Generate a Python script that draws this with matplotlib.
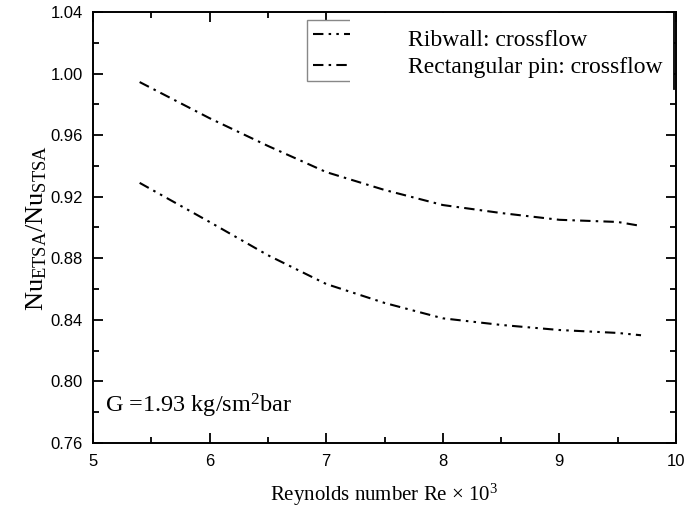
import matplotlib
matplotlib.use('Agg')
import matplotlib.pyplot as plt
from matplotlib.patches import Rectangle
from matplotlib.lines import Line2D
from matplotlib.ticker import MultipleLocator, FormatStrFormatter

plt.rcParams['mathtext.fontset'] = 'custom'
plt.rcParams['mathtext.rm'] = 'Liberation Serif'
plt.rcParams['mathtext.it'] = 'Liberation Serif:italic'

# Reynolds number (x 10^3) and Nusselt ratio for the two geometries
re_vals = [5.4, 6.0, 6.5, 7.0, 7.5, 8.0, 8.5, 9.0, 9.5, 9.7]
nu_ribwall = [0.929, 0.9036, 0.882, 0.8633, 0.851, 0.841, 0.8367, 0.8334, 0.8315, 0.830]
nu_rect_pin = [0.9945, 0.971, 0.953, 0.936, 0.9244, 0.9146, 0.9094, 0.905, 0.9036, 0.901]

labels = ['Ribwall: crossflow', 'Rectangular pin: crossflow']

W, H = 684, 507
fig = plt.figure(figsize=(W / 100, H / 100), dpi=100)
ax = fig.add_axes([93 / W, 1 - 443 / H, (676 - 93) / W, (443 - 12) / H])

l1, = ax.plot(re_vals, nu_ribwall, color='black', lw=1.5,
              linestyle=(0, (5, 2.5, 1.2, 2.5, 1.2, 2.5)))
l2, = ax.plot(re_vals, nu_rect_pin, color='black', lw=1.5,
              linestyle=(0, (5, 2.5, 1.2, 2.5)))

ax.set_xlim(5, 10)
ax.set_ylim(0.76, 1.04)
ax.xaxis.set_major_locator(MultipleLocator(1))
ax.xaxis.set_minor_locator(MultipleLocator(0.5))
ax.yaxis.set_major_locator(MultipleLocator(0.04))
ax.yaxis.set_minor_locator(MultipleLocator(0.02))
ax.yaxis.set_major_formatter(FormatStrFormatter('%.2f'))
ax.tick_params(which='both', direction='in', top=True, right=True,
               labelsize=12, width=1.3)
ax.tick_params(which='major', length=7)
ax.tick_params(which='minor', length=4)
ax.tick_params(axis='x', pad=8)
ax.tick_params(axis='y', pad=7.5)
for lab in ax.get_xticklabels() + ax.get_yticklabels():
    lab.set_family('Liberation Sans')
for sp in ax.spines.values():
    sp.set_linewidth(1.4)

ax.set_xlabel('Reynolds number Re × 10$^\\mathrm{3}$', family='Liberation Serif',
              fontsize=15, labelpad=9)
ax.set_ylabel('Nu$_\\mathrm{ETSA}$/Nu$_\\mathrm{STSA}$', family='Liberation Serif',
              fontsize=19, labelpad=1)

ax.text(0.02, 0.07, 'G =1.93 kg/sm$^\\mathrm{2}$bar', transform=ax.transAxes,
        family='Liberation Serif', fontsize=17.5, va='baseline', ha='left')

# legend with only line samples; the labels sit on a white panel to the right
ax.legend([l1, l2], ['', ''], loc='upper left',
          bbox_to_anchor=(307 / W, 1 - 20 / H), bbox_transform=fig.transFigure,
          borderaxespad=0, fontsize=13, handlelength=4, handletextpad=0.5,
          labelspacing=0.72, borderpad=0.33, fancybox=False, edgecolor='#888888',
          framealpha=1)

ax.add_patch(Rectangle((350 / W, 1 - 100 / H), (674 - 350) / W, (100 - 13) / H,
                       transform=fig.transFigure, facecolor='white', edgecolor='none',
                       zorder=6, clip_on=False))
ax.add_line(Line2D([674 / W, 674 / W], [1 - 89 / H, 1 - 12 / H],
                   transform=fig.transFigure, color='black', lw=1.3,
                   zorder=7, clip_on=False))

ax.text(408 / W, 1 - 46 / H, labels[0], transform=fig.transFigure,
        family='Liberation Serif', fontsize=17, va='baseline', ha='left', zorder=8)
ax.text(408 / W, 1 - 73 / H, labels[1], transform=fig.transFigure,
        family='Liberation Serif', fontsize=17, va='baseline', ha='left', zorder=8)

fig.savefig('out.png', dpi=100)
